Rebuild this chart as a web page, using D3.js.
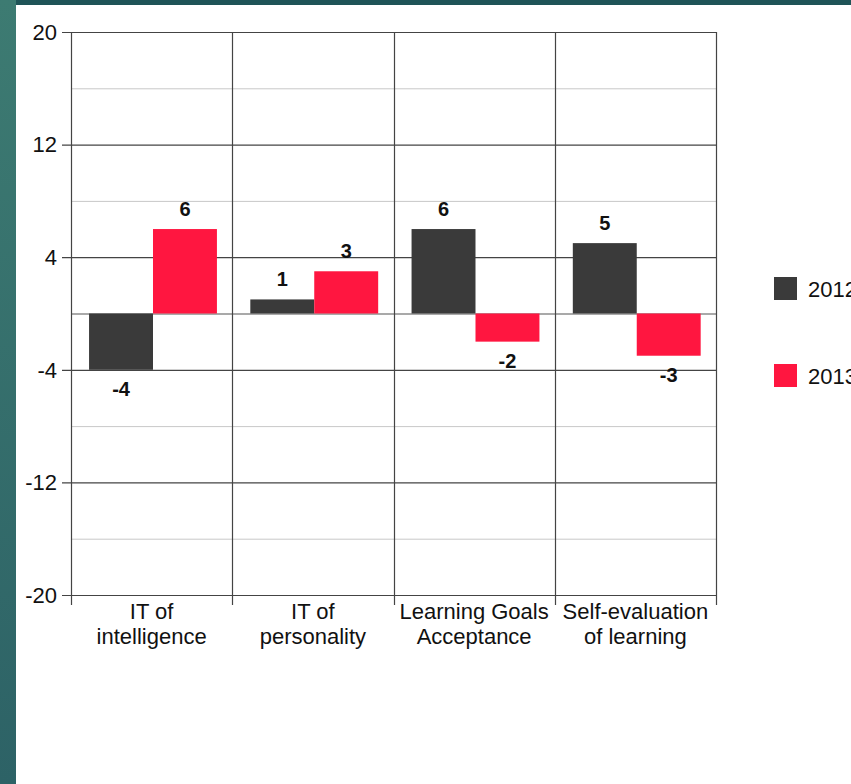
<!DOCTYPE html>
<html>
<head>
<meta charset="utf-8">
<script src="https://cdn.jsdelivr.net/npm/d3@7/dist/d3.min.js"></script>
<style>
  html, body { margin: 0; padding: 0; }
  body { width: 851px; height: 784px; overflow: hidden; }
  svg { display: block; font-family: Arial, "Liberation Sans", sans-serif; }
</style>
</head>
<body>
<svg id="chart" width="851" height="784"></svg>
<script>
// Survey change scores per dimension, two cohorts
const categories = [
  ["IT of", "intelligence"],
  ["IT of", "personality"],
  ["Learning Goals", "Acceptance"],
  ["Self-evaluation", "of learning"]
];
const seriesNames = ["2012", "2013"];
const values2012 = [-4, 1, 6, 5];
const values2013 = [6, 3, -2, -3];
const majorTicks = [20, 12, 4, -4, -12, -20];
const minorTicks = [16, 8, -8, -16];
const seriesColors = ["#3a3a3a", "#ff1640"];

const svg = d3.select("#chart");

// slide background with a white content panel
const defs = svg.append("defs");
const grad = defs.append("linearGradient").attr("id", "bg").attr("x1", 0).attr("y1", 0).attr("x2", 0).attr("y2", 1);
grad.append("stop").attr("offset", "0%").attr("stop-color", "#3d7b72");
grad.append("stop").attr("offset", "100%").attr("stop-color", "#2d6266");
svg.append("rect").attr("width", 851).attr("height", 784).attr("fill", "url(#bg)");
svg.append("rect").attr("x", 16).attr("y", 0).attr("width", 835).attr("height", 5).attr("fill", "#1f5457");
svg.append("rect").attr("x", 16).attr("y", 5).attr("width", 835).attr("height", 779).attr("fill", "#ffffff");

const plot = { left: 71, right: 716, top: 32, bottom: 595 };

const x0 = d3.scaleBand()
  .domain(d3.range(categories.length))
  .range([plot.left, plot.right])
  .padding(0);
const bw = x0.bandwidth();
const x1 = d3.scaleBand()
  .domain(seriesNames)
  .range([bw * 0.112, bw * 0.905])
  .padding(0);
const y = d3.scaleLinear().domain([-20, 20]).range([plot.bottom, plot.top]);

const g = svg.append("g");

// minor gridlines
g.selectAll("line.minor").data(minorTicks).join("line")
  .attr("x1", plot.left).attr("x2", plot.right)
  .attr("y1", d => y(d) + 0.5).attr("y2", d => y(d) + 0.5)
  .attr("stroke", "#c8c8c8").attr("stroke-width", 1);

// major gridlines with tick stubs
g.selectAll("line.major").data(majorTicks).join("line")
  .attr("x1", plot.left - 9).attr("x2", plot.right)
  .attr("y1", d => y(d) + 0.5).attr("y2", d => y(d) + 0.5)
  .attr("stroke", "#444").attr("stroke-width", 1.2);

// zero baseline
g.append("line")
  .attr("x1", plot.left).attr("x2", plot.right)
  .attr("y1", y(0) + 0.5).attr("y2", y(0) + 0.5)
  .attr("stroke", "#555").attr("stroke-width", 1.2);

// category separators extending below the axis
const bounds = d3.range(categories.length + 1).map(i => i < categories.length ? x0(i) : plot.right);
g.selectAll("line.sep").data(bounds).join("line")
  .attr("x1", d => Math.round(d) + 0.5).attr("x2", d => Math.round(d) + 0.5)
  .attr("y1", plot.top).attr("y2", plot.bottom + 10)
  .attr("stroke", "#444").attr("stroke-width", 1.2);

// y tick labels
g.selectAll("text.ytick").data(majorTicks).join("text")
  .attr("x", plot.left - 14).attr("y", d => y(d))
  .attr("dy", "0.35em")
  .attr("text-anchor", "end")
  .attr("font-size", 22).attr("fill", "#111")
  .text(d => d);

// bars
const rows = categories.map((c, i) => ({ i, vals: [values2012[i], values2013[i]] }));
const groups = g.selectAll("g.grp").data(rows).join("g")
  .attr("transform", d => `translate(${x0(d.i)},0)`);

groups.selectAll("rect").data(d => d.vals.map((v, k) => ({ v, k }))).join("rect")
  .attr("x", d => x1(seriesNames[d.k]))
  .attr("width", x1.bandwidth())
  .attr("y", d => y(Math.max(0, d.v)))
  .attr("height", d => Math.abs(y(d.v) - y(0)))
  .attr("fill", d => seriesColors[d.k]);

// value labels
groups.selectAll("text.val").data(d => d.vals.map((v, k) => ({ v, k }))).join("text")
  .attr("x", d => x1(seriesNames[d.k]) + x1.bandwidth() / 2)
  .attr("y", d => d.v >= 0 ? y(d.v) - 13 : y(d.v) + 26)
  .attr("text-anchor", "middle")
  .attr("font-size", 20).attr("font-weight", "bold").attr("fill", "#111")
  .text(d => d.v);

// category labels
const cat = g.selectAll("text.cat").data(categories).join("text")
  .attr("text-anchor", "middle")
  .attr("font-size", 22).attr("fill", "#111");
cat.selectAll("tspan").data((d, i) => d.map(line => ({ line, i }))).join("tspan")
  .attr("x", d => x0(d.i) + bw / 2)
  .attr("y", (d, j) => 619 + j * 25)
  .text(d => d.line);

// legend
const legend = svg.append("g");
seriesNames.forEach((name, k) => {
  const ly = 277 + k * 87;
  legend.append("rect").attr("x", 774).attr("y", ly).attr("width", 23).attr("height", 23)
    .attr("fill", seriesColors[k]);
  legend.append("text").attr("x", 808).attr("y", ly + 20)
    .attr("font-size", 22).attr("fill", "#111").text(name);
});
</script>
</body>
</html>
